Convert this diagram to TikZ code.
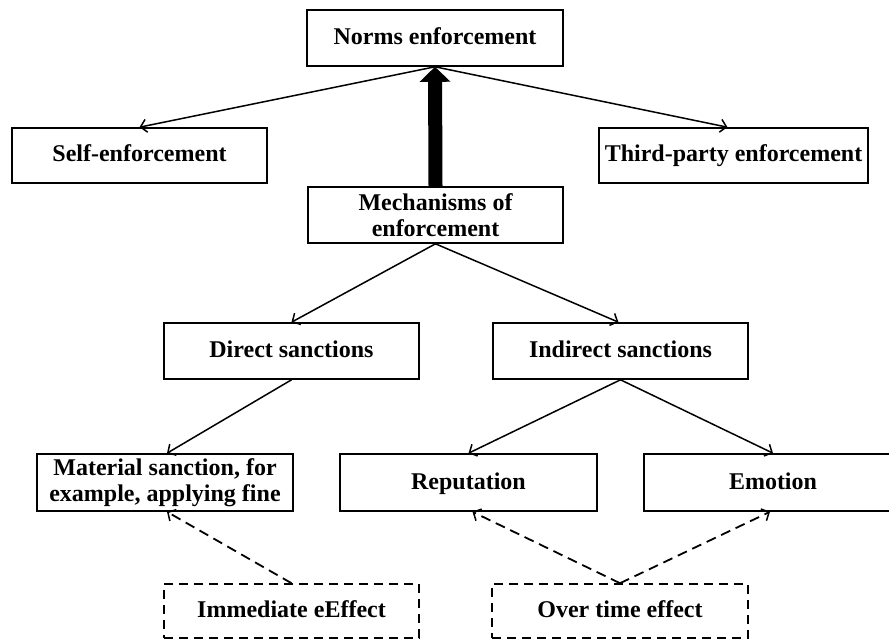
\documentclass[tikz,border=0pt]{standalone}
\usepackage{fontspec}
\setmainfont{Liberation Serif}
\usetikzlibrary{arrows.meta}
\begin{document}
\begin{tikzpicture}[x=1pt,y=-1pt,
  box/.style={draw, line width=1.6pt, minimum width=#1, minimum height=56pt,
    inner sep=2pt, align=center, font=\fontsize{24}{26}\selectfont\bfseries},
  box/.default=255pt,
  oneline/.style={text height=17pt, text depth=4pt},
  effbox/.style={box=#1, oneline, dash pattern=on 9pt off 6pt, minimum height=54pt},
  effbox/.default=255pt,
  link/.style={line width=1.5pt, -{Straight Barb[length=6pt,width=13pt,line width=1.5pt]}},
  effect/.style={link, line width=1.8pt, dash pattern=on 10pt off 6pt},
  bold arrow/.style={line width=14pt, -{Triangle[length=15pt,width=30pt]}}
]
\useasboundingbox (0,0) rectangle (889,639);
\clip (0,0) rectangle (889,639);

% top level
\node[box=256pt, oneline] (norms) at (435,38) {Norms enforcement};
\node[box, oneline, minimum height=55pt] (self) at (139.5,155.5) {Self-enforcement};
\node[box=269pt, oneline, minimum height=55pt] (third) at (733.5,155.5) {Third-party enforcement};
\node[box] (mech) at (435.5,215) {Mechanisms of\\enforcement};

% sanctions
\node[box, oneline] (direct) at (291.5,351) {Direct sanctions};
\node[box, oneline] (indirect) at (620.5,351) {Indirect sanctions};

% outcomes
\node[box=256pt, minimum height=57pt] (material) at (165,482.5) {Material sanction, for\\example, applying fine};
\node[box=257pt, oneline, minimum height=57pt] (reputation) at (468.5,482.5) {Reputation};
\node[box=258pt, oneline, minimum height=57pt] (emotion) at (773,482.5) {Emotion};

% timing of the effects
\node[effbox] (immediate) at (291.5,611) {Immediate eEffect};
\node[effbox=256pt] (overtime) at (620,611) {Over time effect};

% connectors
\draw[bold arrow] (mech.north) -- (norms.south);
\draw[link] (norms.south) -- (self.north);
\draw[link] (norms.south) -- ([xshift=-6pt]third.north);
\draw[link] (mech.south) -- (direct.north);
\draw[link] (mech.south) -- ([xshift=-2pt]indirect.north);
\draw[link] (direct.south) -- ([xshift=2pt]material.north);
\draw[link] (indirect.south) -- (reputation.north);
\draw[link] (indirect.south) -- (emotion.north);
\draw[effect] (immediate.north) -- ([xshift=2pt]material.south);
\draw[effect] (overtime.north) -- ([xshift=4pt]reputation.south);
\draw[effect] (overtime.north) -- ([xshift=-3pt]emotion.south);
\end{tikzpicture}
\end{document}
